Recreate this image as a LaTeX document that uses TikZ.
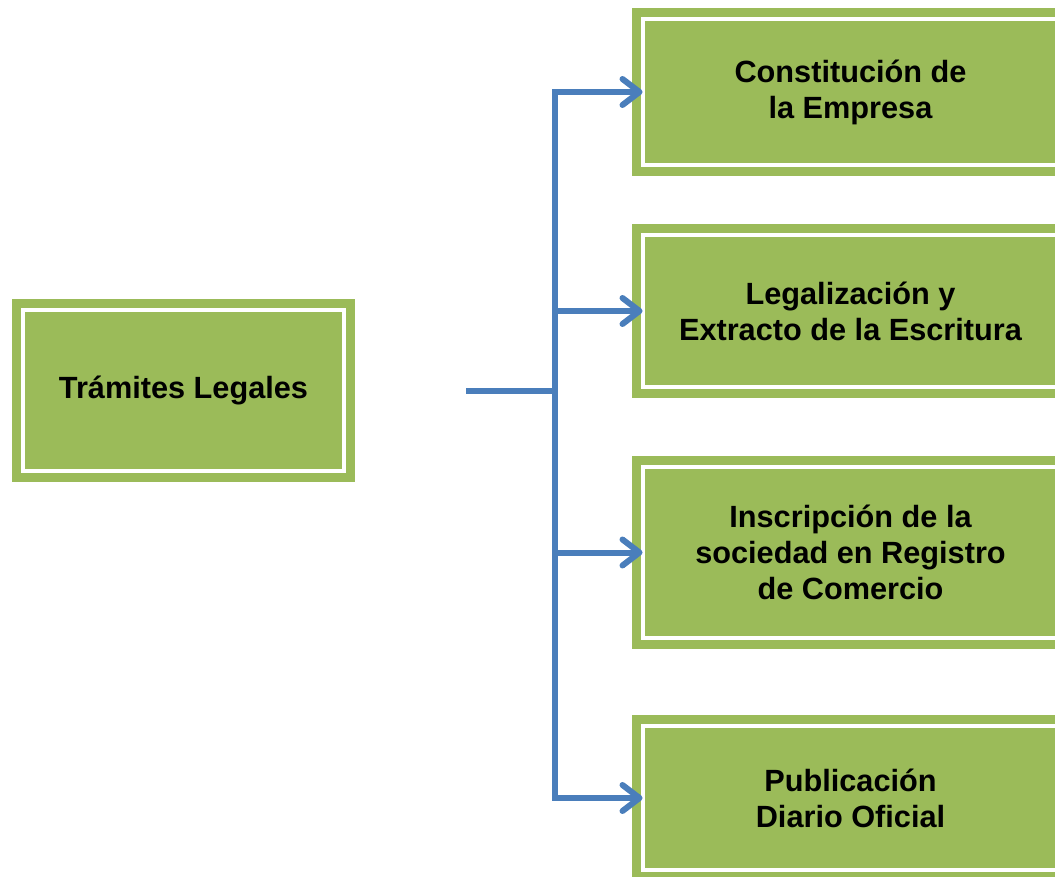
\documentclass[tikz,border=0pt]{standalone}
\usepackage{fontspec}
\setmainfont{Liberation Sans}
\usetikzlibrary{positioning, arrows.meta}
\definecolor{boxgreen}{HTML}{9BBB59}
\definecolor{linkblue}{HTML}{4A7EBB}

\begin{document}
\begin{tikzpicture}[x=1pt, y=-1pt,
        tramite/.style={draw=boxgreen, fill=boxgreen, line width=9pt, double=white, double distance=4pt, inner sep=0pt, outer sep=0pt, align=center, font=\fontsize{30.7}{36}\selectfont\bfseries},
        enlace/.style={draw=linkblue, line width=6pt, -{Straight Barb[length=17pt, width=26pt, round]}}]
        \useasboundingbox (0,0) rectangle (1055,877);
        \clip (0,0) rectangle (1055,877);

        \node[tramite, minimum width=321pt, minimum height=161pt] (box 0) at (183.5,390.5) {Trámites Legales};

        \node[tramite, minimum width=416pt, minimum height=146pt] (box 1) at (850.5,92) {Constitución de\\la Empresa};
        \node[tramite, minimum width=416pt, minimum height=152pt, below=70pt of box 1] (box 2) {Legalización y\\Extracto de la Escritura};
        \node[tramite, minimum width=416pt, minimum height=171pt, below=80pt of box 2] (box 3) {Inscripción de la\\sociedad en Registro\\de Comercio};
        \node[tramite, minimum width=416pt, minimum height=144pt, below=88pt of box 3] (box 4) {Publicación\\Diario Oficial};

        \coordinate (tallo) at (466,391);
        \coordinate[right=89pt of tallo] (fork);

        \draw[enlace, -] (tallo) -- (fork);
        \foreach \i in {1,...,4}
        \draw[enlace] (fork) |- (box \i.west);

    \end{tikzpicture}
\end{document}
